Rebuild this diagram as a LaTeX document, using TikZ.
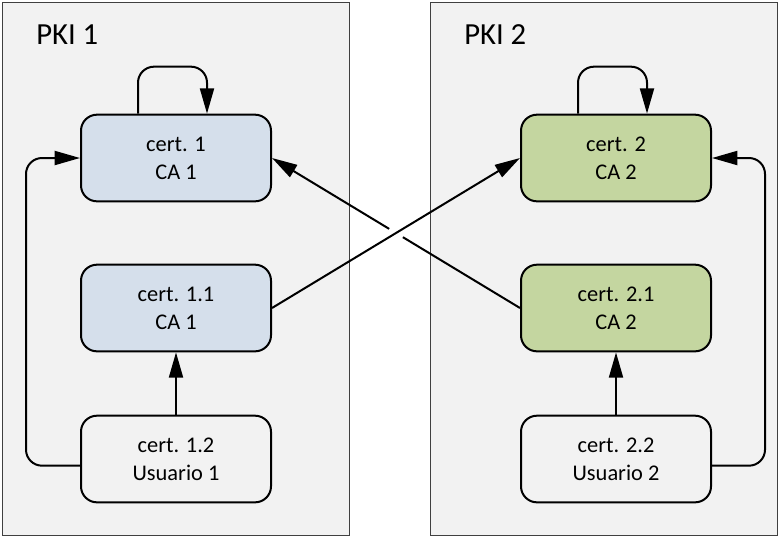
\documentclass[tikz,border=0pt]{standalone}
\usepackage{fontspec}
\setmainfont{Carlito}
\usepackage{xcolor}
\usetikzlibrary{arrows.meta,calc}

\definecolor{cablue}{HTML}{D5DFEB}
\definecolor{cagreen}{HTML}{C4D6A0}

\begin{document}
\begin{tikzpicture}[x=0.75pt,y=-0.75pt,
    panel/.style={draw=black!75,line width=0.75pt,fill=black!5},
    title/.style={anchor=west,inner sep=0pt,font=\fontsize{23}{27}\selectfont},
    cert/.style={draw,line width=1.5pt,rounded corners=12pt,minimum width=142.5pt,
      minimum height=65pt,align=center,font=\fontsize{16.8}{21}\selectfont},
    arr/.style={line width=1.5pt,rounded corners=12pt,-{Triangle[length=19pt,width=10.5pt]}}]
    \useasboundingbox (0,0) rectangle (780,537);
    % the two PKIs
    \draw[panel] (2,2) rectangle (349,535);
    \draw[panel] (430,2) rectangle (777,535);
    \node[title] (pki1) at (36,35) {PKI 1};
    \node[title] (pki2) at (464,35) {PKI 2};
    % certificates
    \node[cert,fill=cablue] (c1) at (176,158) {cert. 1\\CA 1};
    \node[cert,fill=cablue] (c11) at (176,308) {cert. 1.1\\CA 1};
    \node[cert] (c12) at (176,459) {cert. 1.2\\Usuario 1};
    \node[cert,fill=cagreen] (c2) at (616,158) {cert. 2\\CA 2};
    \node[cert,fill=cagreen] (c21) at (616,308) {cert. 2.1\\CA 2};
    \node[cert] (c22) at (616,459) {cert. 2.2\\Usuario 2};
    % chains
    \draw[arr] (c12.north) -- (c11.south);
    \draw[arr] (c22.north) -- (c21.south);
    \draw[arr] ([xshift=-28.5pt]c1.north) -- ++(0,-47) -| ([xshift=23.25pt]c1.north);
    \draw[arr] ([xshift=-28.5pt]c2.north) -- ++(0,-47) -| ([xshift=23.25pt]c2.north);
    \draw[arr] ([yshift=-5pt]c12.west) -- ++(-54,0) |- (c1.west);
    \draw[arr] ([yshift=-5pt]c22.east) -- ++(53,0) |- (c2.east);
    % cross certification
    \coordinate (x) at (intersection of c11.east--c2.west and c21.west--c1.east);
    \draw[line width=1.5pt] (c21.west) -- ($(x)!6pt!(c21.west)$);
    \draw[arr] ($(x)!6pt!(c1.east)$) -- (c1.east);
    \draw[arr] (c11.east) -- (c2.west);
\end{tikzpicture}
\end{document}
